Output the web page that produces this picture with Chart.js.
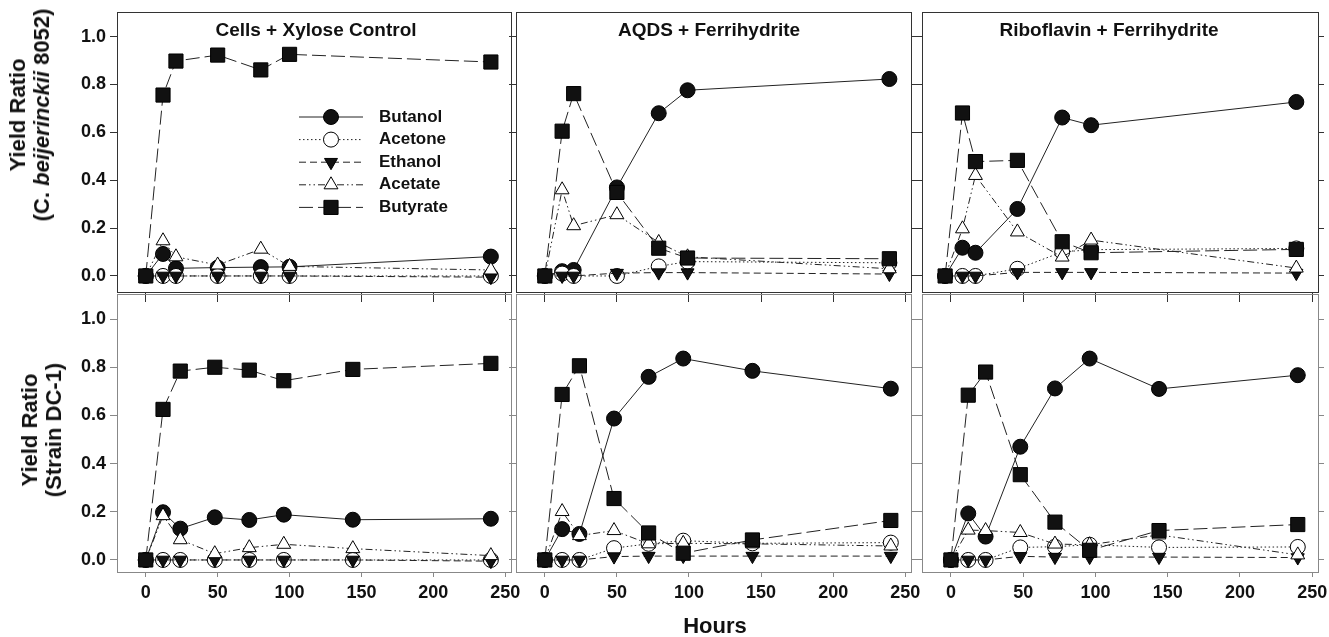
<!DOCTYPE html>
<html><head><meta charset="utf-8">
<script src="https://cdn.jsdelivr.net/npm/chart.js@4/dist/chart.umd.min.js"></script>
<style>
html,body{margin:0;padding:0;background:#fff;}
#wrap{position:relative;width:1329px;height:637px;overflow:hidden;font-family:"Liberation Sans",Arial,Helvetica,sans-serif;font-weight:bold;color:#111;}
canvas{position:absolute;left:0;top:0;}
.ptitle{position:absolute;font-size:19px;line-height:19px;white-space:nowrap;transform:translateX(-50%);}
.ytitle{position:absolute;font-size:22px;line-height:24px;text-align:center;white-space:nowrap;transform:translate(-50%,-50%) rotate(-90deg);}
.xtitle{position:absolute;font-size:22px;line-height:22px;white-space:nowrap;transform:translateX(-50%);}
</style></head><body><div id="wrap"></div>
<script>
// ---------------- data ----------------
const SERIES_NAMES = ['Butanol', 'Acetone', 'Ethanol', 'Acetate', 'Butyrate'];
const PANEL_TITLES = ['Cells + Xylose Control', 'AQDS + Ferrihydrite', 'Riboflavin + Ferrihydrite'];
const X_TICKS = [0, 50, 100, 150, 200, 250];
const Y_TICKS = [0, 0.2, 0.4, 0.6, 0.8, 1.0];

const HOURS_TOP_LEFT = [0, 12, 21, 50, 80, 100, 240];
const HOURS_TOP_MIDDLE = [0, 12, 20, 50, 79, 99, 239];
const HOURS_TOP_RIGHT = [-4, 8, 17, 46, 77, 97, 239];
const HOURS_BOTTOM = [0, 12, 24, 48, 72, 96, 144, 240];

// C. beijerinckii 8052
const CB_CTRL_BUTANOL = [0, 0.092, 0.032, 0.035, 0.037, 0.038, 0.081];
const CB_CTRL_ACETONE = [0, 0, 0, 0, 0, 0, 0];
const CB_CTRL_ETHANOL = [0, 0, 0, 0, 0, 0, -0.005];
const CB_CTRL_ACETATE = [0, 0.147, 0.08, 0.046, 0.112, 0.04, 0.025];
const CB_CTRL_BUTYRATE = [0, 0.756, 0.898, 0.923, 0.861, 0.926, 0.894];

const CB_AQDS_BUTANOL = [0, 0.02, 0.025, 0.37, 0.68, 0.776, 0.823];
const CB_AQDS_ACETONE = [0, 0.01, 0, 0, 0.04, 0.06, 0.055];
const CB_AQDS_ETHANOL = [0, 0, 0, 0.012, 0.014, 0.014, 0.008];
const CB_AQDS_ACETATE = [0, 0.36, 0.21, 0.256, 0.14, 0.08, 0.03];
const CB_AQDS_BUTYRATE = [0, 0.605, 0.762, 0.349, 0.116, 0.075, 0.072];

const CB_RIBO_BUTANOL = [0, 0.118, 0.097, 0.28, 0.662, 0.63, 0.727];
const CB_RIBO_ACETONE = [0, 0, 0, 0.03, 0.1, 0.11, 0.115];
const CB_RIBO_ETHANOL = [0, 0, 0, 0.015, 0.015, 0.015, 0.012];
const CB_RIBO_ACETATE = [0, 0.197, 0.42, 0.184, 0.079, 0.15, 0.033];
const CB_RIBO_BUTYRATE = [0, 0.681, 0.478, 0.483, 0.143, 0.097, 0.111];

// Strain DC-1
const DC_CTRL_BUTANOL = [0, 0.198, 0.13, 0.177, 0.166, 0.188, 0.167, 0.171];
const DC_CTRL_ACETONE = [0, 0, 0, 0, 0, 0, 0, 0];
const DC_CTRL_ETHANOL = [0, 0, 0, 0, 0, 0, 0, -0.005];
const DC_CTRL_ACETATE = [0, 0.184, 0.084, 0.026, 0.051, 0.065, 0.047, 0.018];
const DC_CTRL_BUTYRATE = [0, 0.625, 0.784, 0.8, 0.788, 0.744, 0.791, 0.816];

const DC_AQDS_BUTANOL = [0, 0.128, 0.108, 0.587, 0.76, 0.836, 0.785, 0.711];
const DC_AQDS_ACETONE = [0, 0, 0, 0.049, 0.067, 0.08, 0.069, 0.072];
const DC_AQDS_ETHANOL = [0, 0, 0, 0.014, 0.016, 0.016, 0.016, 0.016];
const DC_AQDS_ACETATE = [0, 0.201, 0.101, 0.122, 0.067, 0.069, 0.067, 0.058];
const DC_AQDS_BUTYRATE = [0, 0.687, 0.806, 0.255, 0.112, 0.028, 0.083, 0.164];

const DC_RIBO_BUTANOL = [0, 0.193, 0.097, 0.47, 0.712, 0.836, 0.71, 0.767];
const DC_RIBO_ACETONE = [0, 0, 0, 0.052, 0.055, 0.063, 0.052, 0.054];
const DC_RIBO_ETHANOL = [0, 0, 0, 0.015, 0.012, 0.012, 0.012, 0.01];
const DC_RIBO_ACETATE = [0, 0.124, 0.122, 0.114, 0.066, 0.063, 0.104, 0.021];
const DC_RIBO_BUTYRATE = [0, 0.684, 0.78, 0.354, 0.157, 0.04, 0.122, 0.147];

// ---------------- layout / style ----------------
const FONT = '"Liberation Sans", Arial, Helvetica, sans-serif';
const W = 1329, H = 637;
const XMIN = -20, XMAX = 254;
const COLS = [{left: 117, right: 511}, {left: 516, right: 911}, {left: 922, right: 1318}];
const ROWS = [{top: 12, bottom: 292, ymin: -0.067, ymax: 1.103, color: '#333'},
              {top: 294, bottom: 572, ymin: -0.05, ymax: 1.104, color: '#888'}];

const STYLES = {
  Butanol:  {pointStyle: 'circle',   radius: 7.5, rotation: 0,   fill: '#111', dash: [],               order: 5},
  Acetone:  {pointStyle: 'circle',   radius: 7.5, rotation: 0,   fill: '#fff', dash: [1.5, 2.5],       order: 4},
  Ethanol:  {pointStyle: 'triangle', radius: 7.5, rotation: 180, fill: '#111', dash: [7, 4],           order: 3},
  Acetate:  {pointStyle: 'triangle', radius: 8,   rotation: 0,   fill: '#fff', dash: [7, 3, 1.5, 3, 1.5, 3], order: 2},
  Butyrate: {pointStyle: 'rect',     radius: 10,  rotation: 0,   fill: '#111', dash: [14, 5],          order: 1}
};

const PANELS = [
  {row: 0, col: 0, hours: HOURS_TOP_LEFT,   series: [CB_CTRL_BUTANOL, CB_CTRL_ACETONE, CB_CTRL_ETHANOL, CB_CTRL_ACETATE, CB_CTRL_BUTYRATE], legend: true},
  {row: 0, col: 1, hours: HOURS_TOP_MIDDLE, series: [CB_AQDS_BUTANOL, CB_AQDS_ACETONE, CB_AQDS_ETHANOL, CB_AQDS_ACETATE, CB_AQDS_BUTYRATE]},
  {row: 0, col: 2, hours: HOURS_TOP_RIGHT,  series: [CB_RIBO_BUTANOL, CB_RIBO_ACETONE, CB_RIBO_ETHANOL, CB_RIBO_ACETATE, CB_RIBO_BUTYRATE]},
  {row: 1, col: 0, hours: HOURS_BOTTOM,     series: [DC_CTRL_BUTANOL, DC_CTRL_ACETONE, DC_CTRL_ETHANOL, DC_CTRL_ACETATE, DC_CTRL_BUTYRATE]},
  {row: 1, col: 1, hours: HOURS_BOTTOM,     series: [DC_AQDS_BUTANOL, DC_AQDS_ACETONE, DC_AQDS_ETHANOL, DC_AQDS_ACETATE, DC_AQDS_BUTYRATE]},
  {row: 1, col: 2, hours: HOURS_BOTTOM,     series: [DC_RIBO_BUTANOL, DC_RIBO_ACETONE, DC_RIBO_ETHANOL, DC_RIBO_ACETATE, DC_RIBO_BUTYRATE]}
];

// legend drawn inside the first panel, with the datasets' own styles
const inlineLegend = {
  id: 'inlineLegend',
  afterDatasetsDraw(chart, args, opts) {
    if (!opts || !opts.show) return;
    const ctx = chart.ctx, a = chart.chartArea;
    ctx.save();
    chart.data.datasets.forEach((ds, i) => {
      const y = a.top + opts.rowTop + i * opts.rowGap;
      const x1 = a.left + opts.lineLeft, x2 = x1 + opts.lineLen, xm = (x1 + x2) / 2;
      ctx.setLineDash(ds.borderDash || []);
      ctx.strokeStyle = ds.borderColor; ctx.lineWidth = ds.borderWidth;
      ctx.beginPath(); ctx.moveTo(x1, y); ctx.lineTo(x2, y); ctx.stroke();
      ctx.setLineDash([]);
      ctx.fillStyle = ds.pointBackgroundColor; ctx.strokeStyle = ds.pointBorderColor; ctx.lineWidth = ds.pointBorderWidth;
      Chart.helpers.drawPoint(ctx, {pointStyle: ds.pointStyle, rotation: ds.pointRotation || 0,
        radius: ds.pointRadius, borderWidth: ds.pointBorderWidth}, xm, y);
      ctx.fillStyle = '#111';
      ctx.font = 'bold 17px ' + FONT;
      ctx.textBaseline = 'middle'; ctx.textAlign = 'left';
      ctx.fillText(ds.label, x2 + opts.textGap, y);
    });
    ctx.restore();
  }
};

const wrap = document.getElementById('wrap');

function zeroPad(s) { s.paddingLeft = 0; s.paddingRight = 0; s.paddingTop = 0; s.paddingBottom = 0; }

PANELS.forEach(p => {
  const col = COLS[p.col], row = ROWS[p.row];
  const c = row.color;
  const tickFont = {family: FONT, size: 18, weight: 'bold'};
  const Wl = p.col === 0 ? 60 : 7, Wr = 6, Ht = 0, Hb = p.row === 1 ? 40 : 10;

  const datasets = SERIES_NAMES.map((name, i) => {
    const st = STYLES[name];
    return {
      label: name,
      data: p.hours.map((h, k) => ({x: h, y: p.series[i][k]})),
      showLine: true,
      borderColor: '#222', borderWidth: 1, borderDash: st.dash,
      pointStyle: st.pointStyle, pointRadius: st.radius, pointRotation: st.rotation,
      pointBackgroundColor: st.fill, pointBorderColor: '#000', pointBorderWidth: 1,
      pointHoverRadius: st.radius,
      order: st.order, clip: false, tension: 0
    };
  });

  const cv = document.createElement('canvas');
  cv.width = W; cv.height = H;
  cv.style.width = W + 'px'; cv.style.height = H + 'px';
  wrap.appendChild(cv);

  new Chart(cv, {
    type: 'scatter',
    data: {datasets},
    plugins: [inlineLegend],
    options: {
      responsive: false, animation: false, events: [],
      devicePixelRatio: 1,
      layout: {padding: {left: col.left - Wl, right: W - col.right - Wr, top: row.top - Ht, bottom: H - row.bottom - Hb}},
      plugins: {
        legend: {display: false}, tooltip: {enabled: false}, title: {display: false},
        inlineLegend: {show: !!p.legend, rowTop: 105, rowGap: 22.6, lineLeft: 182, lineLen: 64, textGap: 16}
      },
      scales: {
        x: {type: 'linear', position: 'bottom', min: XMIN, max: XMAX,
            afterBuildTicks: s => { s.ticks = X_TICKS.map(v => ({value: v})); },
            afterFit: s => { s.height = Hb; zeroPad(s); },
            grid: {drawOnChartArea: false, drawTicks: true, tickLength: p.row === 1 ? 5 : 10, color: c},
            border: {display: true, color: c, width: 1},
            ticks: {display: p.row === 1, font: tickFont, color: '#111', padding: 5, maxRotation: 0, autoSkip: false,
                    callback: v => String(v)}},
        x2: {type: 'linear', position: 'top', min: XMIN, max: XMAX,
            afterBuildTicks: s => { s.ticks = X_TICKS.map(v => ({value: v})); },
            afterFit: s => { s.height = Ht; zeroPad(s); },
            grid: {drawOnChartArea: false, drawTicks: false, color: c},
            border: {display: true, color: c, width: 1},
            ticks: {display: false}},
        y: {type: 'linear', position: 'left', min: row.ymin, max: row.ymax,
            afterBuildTicks: s => { s.ticks = Y_TICKS.map(v => ({value: v})); },
            afterFit: s => { s.width = Wl; zeroPad(s); },
            grid: {drawOnChartArea: false, drawTicks: true, tickLength: 7, color: c},
            border: {display: true, color: c, width: 1},
            ticks: {display: p.col === 0, font: tickFont, color: '#111', padding: 4, autoSkip: false,
                    callback: v => Number(v).toFixed(1)}},
        y2: {type: 'linear', position: 'right', min: row.ymin, max: row.ymax,
            afterBuildTicks: s => { s.ticks = Y_TICKS.map(v => ({value: v})); },
            afterFit: s => { s.width = Wr; zeroPad(s); },
            grid: {drawOnChartArea: false, drawTicks: true, tickLength: 6, color: c},
            border: {display: true, color: c, width: 1},
            ticks: {display: false}}
      }
    }
  });
});

// ---------------- text (titles) ----------------
function addDiv(cls, html, css) {
  const d = document.createElement('div');
  d.className = cls; d.innerHTML = html;
  Object.assign(d.style, css);
  wrap.appendChild(d);
}
const TITLE_CENTERS = [316, 709, 1109];
PANEL_TITLES.forEach((t, i) => addDiv('ptitle', t, {left: TITLE_CENTERS[i] + 'px', top: '20px'}));
addDiv('ytitle', 'Yield Ratio<br>(C. <i>beijerinckii</i> 8052)', {left: '30px', top: '115px'});
addDiv('ytitle', 'Yield Ratio<br>(Strain DC-1)', {left: '42px', top: '430px'});
addDiv('xtitle', 'Hours', {left: '715px', top: '615px'});
</script>
</body></html>
